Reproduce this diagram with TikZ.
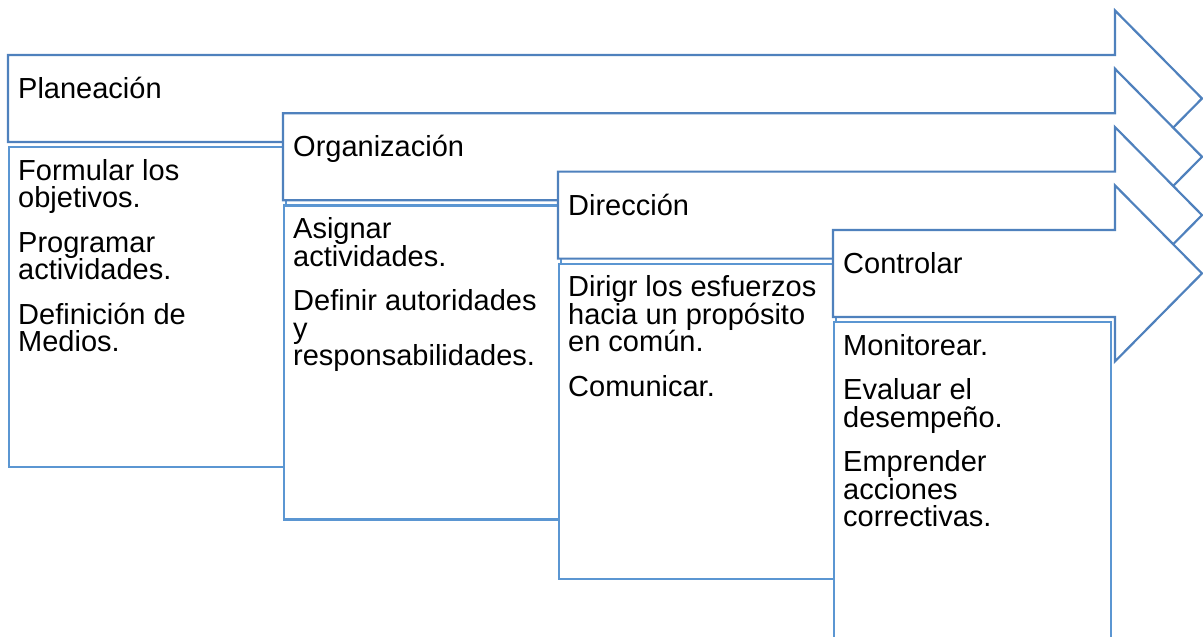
\documentclass[tikz,border=0pt]{standalone}
\usepackage{fontspec}
\setmainfont{Liberation Sans}
\usetikzlibrary{positioning}
\definecolor{arrowblue}{RGB}{79,129,189}
\definecolor{boxblue}{RGB}{91,150,210}
\tikzset{
  steparrow/.style={draw=arrowblue, line width=2.2pt, fill=white, line join=miter},
  stepbox/.style={rectangle, draw=boxblue, line width=2.2pt, fill=white, anchor=north west,
    minimum width=277pt, inner sep=0pt},
  steptitle/.style={anchor=north west, inner sep=0pt, font=\fontsize{29}{27.5}\selectfont},
  steptext/.style={align=left, inner sep=0pt, font=\fontsize{29}{27.5}\selectfont}
}

\begin{document}
\begin{tikzpicture}[x=1pt, y=-1pt]
    \useasboundingbox (0,0) rectangle (1203,637);
    % arrows and boxes, one step after the other
    \foreach \k/\L/\T/\H in {1/8/55/320, 2/283/113.3/314, 3/558/171.6/315, 4/833/229.9/317} {
        \draw[steparrow] (\L,\T) -- (1115,\T) -- (1115,\T-44.5) -- (1202,\T+43.5)
            -- (1115,\T+131.5) -- (1115,\T+87) -- (\L,\T+87) -- cycle;
        \coordinate (arrow\k) at (\L,\T);
        \node[stepbox, minimum height=\H pt] (box\k) at (\L,\T+91) {};
    }

    % titles
    \node[steptitle, below right=22pt and 10pt of arrow1] (title1) {Planeación};
    \node[steptitle, below right=22pt and 10pt of arrow2] (title2) {Organización};
    \node[steptitle, below right=22pt and 10pt of arrow3] (title3) {Dirección};
    \node[steptitle, below right=22pt and 10pt of arrow4] (title4) {Controlar};

    % tasks
    \node[steptext, below right=13pt and 10pt of box1.north west] (text1)
        {Formular los\\ objetivos.\\[17pt] Programar\\ actividades.\\[17pt] Definición de\\ Medios.};
    \node[steptext, below right=13pt and 10pt of box2.north west] (text2)
        {Asignar\\ actividades.\\[17pt] Definir autoridades\\ y\\ responsabilidades.};
    \node[steptext, below right=13pt and 10pt of box3.north west] (text3)
        {Dirigr los esfuerzos\\ hacia un propósito\\ en común.\\[17pt] Comunicar.};
    \node[steptext, below right=13pt and 10pt of box4.north west] (text4)
        {Monitorear.\\[17pt] Evaluar el\\ desempeño.\\[17pt] Emprender\\ acciones\\ correctivas.};
\end{tikzpicture}
\end{document}
